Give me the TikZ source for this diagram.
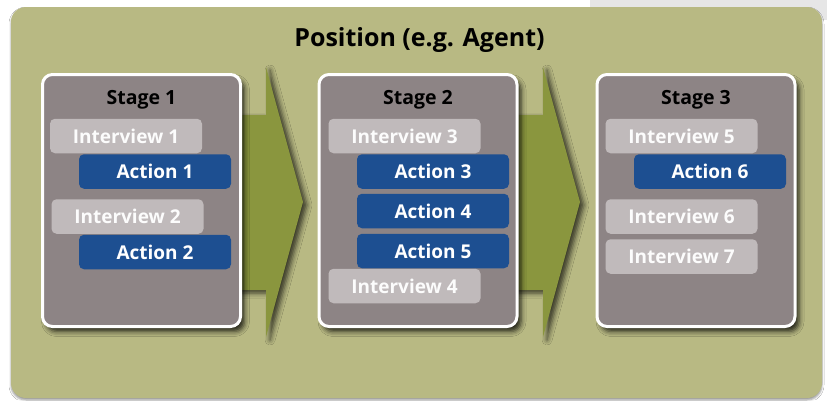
\documentclass[tikz,border=0pt]{standalone}
\usepackage{fontspec}
\setmainfont{Open Sans}
\usetikzlibrary{shadows.blur}
\definecolor{panelc}{HTML}{B8B983}
\definecolor{stagec}{HTML}{8D8485}
\definecolor{interc}{HTML}{C0BABB}
\definecolor{actc}{HTML}{1D4F91}
\definecolor{arrowc}{HTML}{8A963E}
\definecolor{topgray}{HTML}{E6E6E6}
\tikzset{
  panelbox/.style={fill=panelc, rounded corners=15pt, inner sep=0pt, outer sep=0pt,
    blur shadow={shadow xshift=0pt, shadow yshift=-2pt, shadow blur radius=2pt, shadow opacity=40}},
  stagebox/.style={fill=stagec, draw=white, line width=3pt, rounded corners=10pt,
    minimum width=198pt, minimum height=252pt, inner sep=0pt, outer sep=0pt,
    blur shadow={shadow xshift=4pt, shadow yshift=-5pt, shadow blur radius=5pt, shadow opacity=80}},
  stagelabel/.style={font=\fontsize{19.5}{22}\selectfont\bfseries, text=black, inner sep=0pt},
  titlelabel/.style={font=\fontsize{25}{28}\selectfont\bfseries, text=black, inner sep=0pt},
  smallbox/.style={rounded corners=5pt, minimum width=152pt, minimum height=34.5pt,
    inner sep=0pt, outer sep=0pt, text=white, font=\fontsize{19}{22}\selectfont\bfseries},
  interbox/.style={smallbox, fill=interc, text=white!96!interc},
  actbox/.style={smallbox, fill=actc},
  bigarrow/.style={fill=arrowc,
    blur shadow={shadow xshift=4pt, shadow yshift=-3pt, shadow blur radius=5pt, shadow opacity=70}}
}
\begin{document}
\begin{tikzpicture}[x=1pt,y=-1pt]
\useasboundingbox (0,0) rectangle (827,400);
\fill[white] (0,0) rectangle (827,400);
\fill[topgray] (590,0) rectangle (827,20);
\node[panelbox, minimum width=811pt, minimum height=391pt] (panel) at (416.5,202.5) {};
\node[titlelabel] (title) at (419.5,40) {Position (e.g. Agent)};
% arrows
\fill[bigarrow] (230,115) -- (266,115) -- (266,67) -- (303,202) -- (266,337) -- (266,290) -- (230,290) -- cycle;
\fill[bigarrow] (507,115) -- (543,115) -- (543,67) -- (580,202) -- (543,337) -- (543,290) -- (507,290) -- cycle;
% stages
\node[stagebox] (s1) at (141.5,200.5) {};
\node[stagebox] (s2) at (418,200.5) {};
\node[stagebox] (s3) at (696,200.5) {};
\node[stagelabel] (s1t) at (141.5,100) {Stage 1};
\node[stagelabel] (s2t) at (418,100) {Stage 2};
\node[stagelabel] (s3t) at (696,100) {Stage 3};
% stage 1
\node[interbox] (i1) at (126,136) {Interview 1};
\node[actbox] (a1) at (155,171.5) {Action 1};
\node[interbox] (i2) at (127.5,216.5) {Interview 2};
\node[actbox] (a2) at (155,252) {Action 2};
% stage 2
\node[interbox] (i3) at (404.5,136) {Interview 3};
\node[actbox] (a3) at (433,171.5) {Action 3};
\node[actbox] (a4) at (433,211) {Action 4};
\node[actbox] (a5) at (433,251) {Action 5};
\node[interbox] (i4) at (404.5,286) {Interview 4};
% stage 3
\node[interbox] (i5) at (681.5,136) {Interview 5};
\node[actbox] (a6) at (710,171.5) {Action 6};
\node[interbox] (i6) at (681.5,216.5) {Interview 6};
\node[interbox] (i7) at (681.5,256.5) {Interview 7};
\end{tikzpicture}
\end{document}
